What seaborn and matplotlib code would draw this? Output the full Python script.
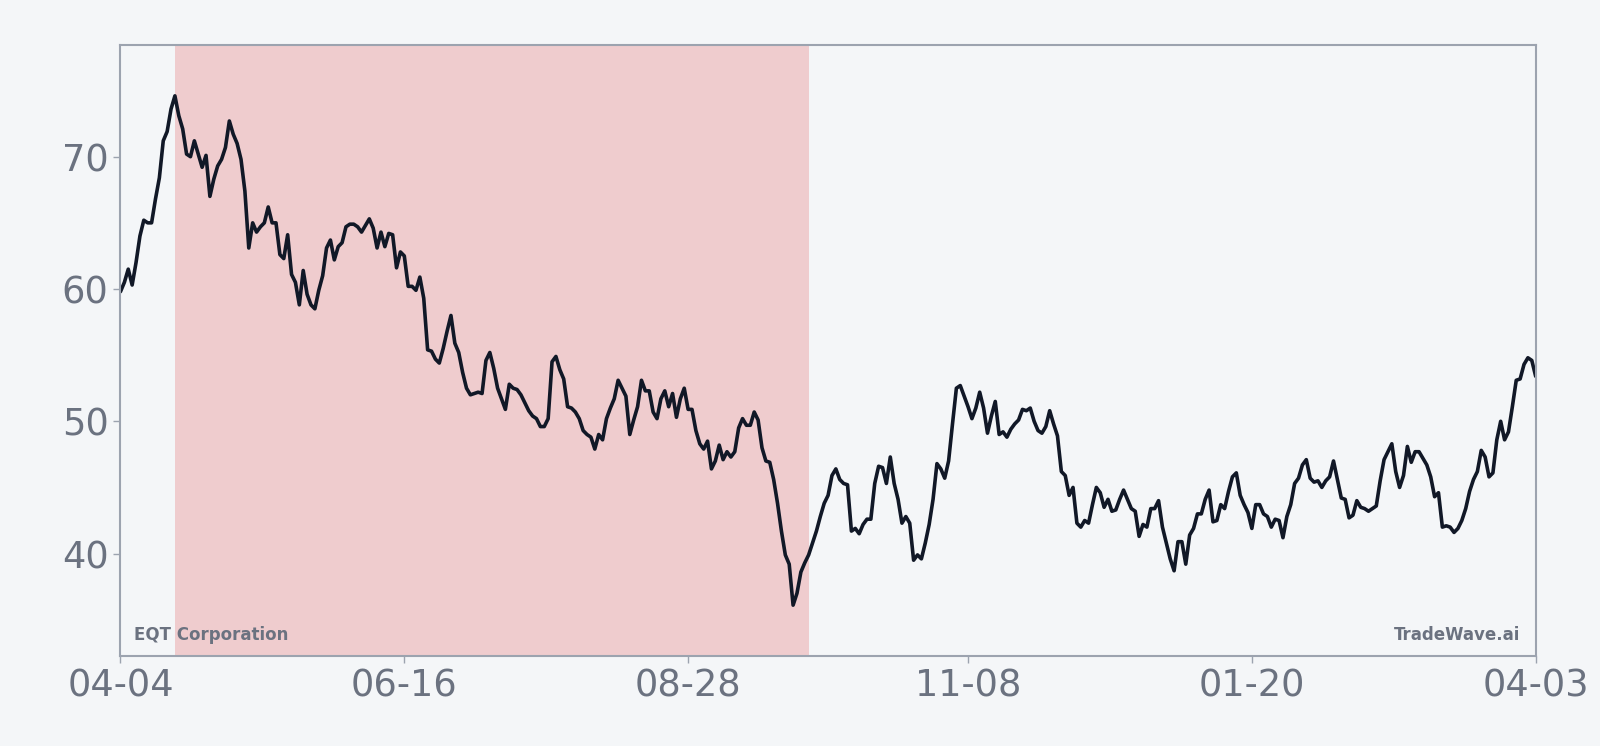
import pandas as pd
import numpy as np
import seaborn as sns
import matplotlib
matplotlib.use("Agg")
import matplotlib.pyplot as plt
import matplotlib.dates as mdates

# daily closes, 2024-04-04 .. 2025-04-03
start_date = "2024-04-04"

prices_apr_may = [
    59.8, 60.5, 61.5, 60.3, 62.0, 64.0, 65.2, 65.0, 65.0, 66.8,
    68.4, 71.2, 71.9, 73.6, 74.6, 73.1, 72.1, 70.2, 70.0, 71.2,
    70.2, 69.2, 70.1, 67.0, 68.3, 69.3, 69.8, 70.7, 72.7, 71.7,
    71.0, 69.8, 67.4, 63.1, 65.0, 64.3, 64.7, 65.0, 66.2, 65.0,
    65.0, 62.6, 62.3, 64.1, 61.1, 60.5, 58.8, 61.4, 59.6, 58.8,
    58.5, 59.9, 61.0, 63.1, 63.7, 62.2, 63.2, 63.5, 64.7, 64.9,
    64.9, 64.7, 64.3, 64.8, 65.3,
]
prices_jun_aug = [
    64.6, 63.1, 64.3, 63.2, 64.2, 64.1, 61.6, 62.8, 62.5, 60.2,
    60.2, 59.9, 60.9, 59.3, 55.4, 55.3, 54.7, 54.4, 55.5, 56.8,
    58.0, 55.9, 55.2, 53.7, 52.5, 52.0, 52.1, 52.2, 52.1, 54.6,
    55.2, 54.0, 52.5, 51.7, 50.9, 52.8, 52.5, 52.4, 52.0, 51.4,
    50.8, 50.4, 50.2, 49.6, 49.6, 50.2, 54.5, 54.9, 53.9, 53.2,
    51.1, 51.0, 50.7, 50.2, 49.3, 49.0, 48.8, 47.9, 49.0, 48.6,
    50.2, 51.0, 51.7, 53.1,
]
prices_aug_oct = [
    52.5, 51.9, 49.0, 50.1, 51.1, 53.1, 52.3, 52.3, 50.7, 50.2,
    51.7, 52.3, 51.1, 52.1, 50.3, 51.7, 52.5, 50.9, 50.9, 49.3,
    48.3, 47.9, 48.5, 46.4, 47.0, 48.2, 47.1, 47.7, 47.3, 47.7,
    49.5, 50.2, 49.7, 49.7, 50.7, 50.1, 48.0, 47.0, 46.9, 45.6,
    43.8, 41.7, 39.9, 39.2, 36.1, 37.0, 38.6, 39.3, 39.9, 40.8,
    41.7, 42.8, 43.8, 44.4, 45.9, 46.4, 45.6, 45.3, 45.2, 41.7,
    41.9, 41.5, 42.2, 42.6, 42.6,
]
prices_oct_dec = [
    45.3, 46.6, 46.5, 45.3, 47.3, 45.3, 44.1, 42.3, 42.8, 42.3,
    39.5, 39.9, 39.6, 40.8, 42.2, 44.1, 46.8, 46.4, 45.7, 47.0,
    49.8, 52.5, 52.7, 51.9, 51.1, 50.2, 51.0, 52.2, 51.0, 49.1,
    50.4, 51.5, 49.0, 49.2, 48.8, 49.4, 49.8, 50.1, 50.9, 50.8,
    51.0, 50.0, 49.3, 49.1, 49.6, 50.8, 49.8, 48.9, 46.2, 45.9,
    44.4, 45.0, 42.3, 42.0, 42.5, 42.3, 43.7, 45.0, 44.6, 43.5,
    44.1, 43.2, 43.3, 44.1,
]
prices_dec_feb = [
    44.8, 44.1, 43.4, 43.2, 41.3, 42.2, 42.0, 43.4, 43.4, 44.0,
    42.0, 40.8, 39.6, 38.7, 40.9, 40.9, 39.2, 41.4, 41.9, 43.0,
    43.0, 44.1, 44.8, 42.4, 42.5, 43.7, 43.4, 44.7, 45.8, 46.1,
    44.4, 43.7, 43.1, 41.9, 43.7, 43.7, 43.0, 42.8, 42.0, 42.6,
    42.5, 41.2, 42.8, 43.7, 45.3, 45.7, 46.7, 47.1, 45.7, 45.4,
    45.5, 45.0, 45.5, 45.8, 47.0, 45.6, 44.2, 44.1, 42.7, 42.9,
    44.0, 43.5, 43.4, 43.2,
]
prices_feb_apr = [
    43.4, 43.6, 45.5, 47.1, 47.7, 48.3, 46.2, 45.0, 45.9, 48.1,
    46.9, 47.7, 47.7, 47.2, 46.7, 45.8, 44.3, 44.6, 42.0, 42.1,
    42.0, 41.6, 41.9, 42.5, 43.4, 44.7, 45.6, 46.2, 47.8, 47.3,
    45.8, 46.1, 48.6, 50.0, 48.6, 49.2, 51.1, 53.1, 53.2, 54.3,
    54.8, 54.6, 53.4,
]

tick_dates = ["2024-04-04", "2024-06-16", "2024-08-28", "2024-11-08", "2025-01-20", "2025-04-03"]
shade_start = "2024-04-18"
shade_end = "2024-09-28"
company = "EQT Corporation"
brand = "TradeWave.ai"

prices = (prices_apr_may + prices_jun_aug + prices_aug_oct
          + prices_oct_dec + prices_dec_feb + prices_feb_apr)
df = pd.DataFrame({
    "date": pd.date_range(start_date, periods=len(prices), freq="D"),
    "close": prices,
})

bg = "#f4f6f8"
sns.set_theme(style="white")
plt.rcParams["font.family"] = ["DejaVu Sans"]

fig = plt.figure(figsize=(16, 7.46), dpi=100, facecolor=bg)
ax = fig.add_axes([0.0753, 0.1205, 0.8845, 0.8193])
ax.set_facecolor(bg)

ax.axvspan(pd.Timestamp(shade_start), pd.Timestamp(shade_end), color="#dc2626", alpha=0.2, lw=0)
sns.lineplot(data=df, x="date", y="close", ax=ax, color="#111827", linewidth=2.6)

ax.set_xlim(df["date"].iloc[0], df["date"].iloc[-1])
ax.set_ylim(32.25, 78.45)
ax.set_xticks(pd.to_datetime(tick_dates))
ax.xaxis.set_major_formatter(mdates.DateFormatter("%m-%d"))
ax.set_yticks([40, 50, 60, 70])
ax.set_xlabel("")
ax.set_ylabel("")

ax.tick_params(axis="both", labelsize=26.5, labelcolor="#6b7280", color="#9ca3af",
               length=5, width=1, bottom=True, left=True)
for s in ax.spines.values():
    s.set_color("#9ca3af")
    s.set_linewidth(1.5)

ax.text(0.0094, 0.027, company, transform=ax.transAxes, fontsize=12,
        fontweight="bold", color="#6b7280", ha="left", va="baseline")
ax.text(0.989, 0.027, brand, transform=ax.transAxes, fontsize=12,
        fontweight="bold", color="#6b7280", ha="right", va="baseline")

fig.savefig("out.png", dpi=100, facecolor=bg)
